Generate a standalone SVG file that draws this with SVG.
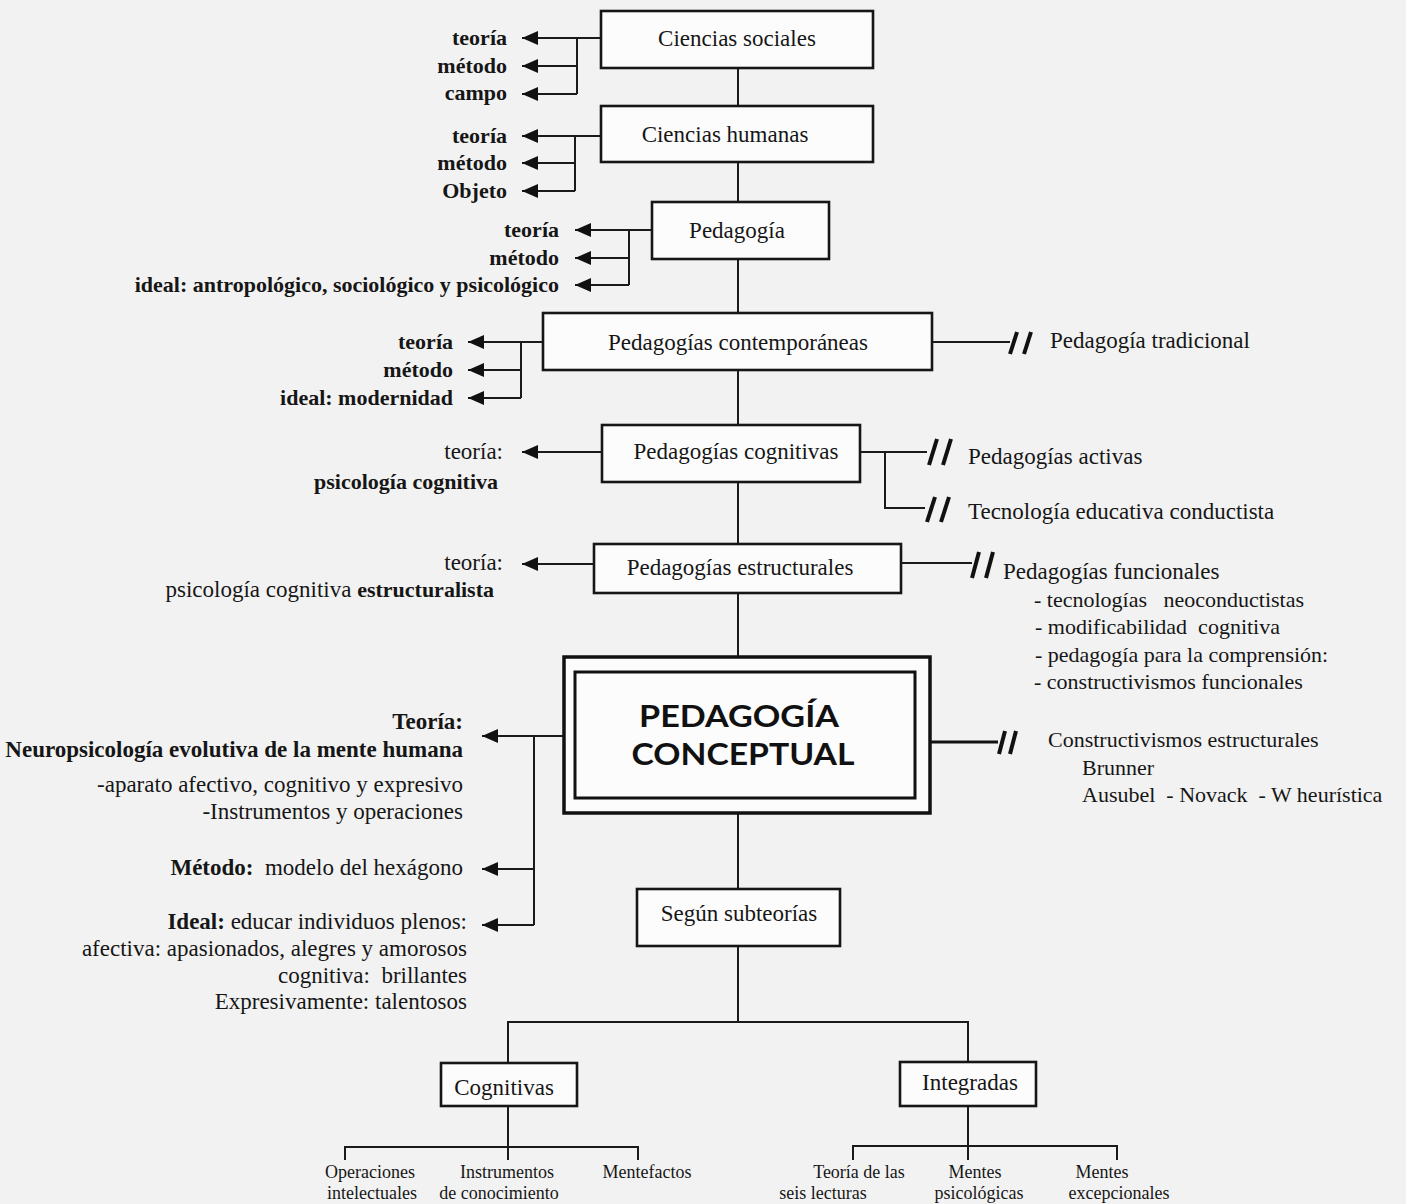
<svg xmlns="http://www.w3.org/2000/svg" width="1406" height="1204" viewBox="0 0 1406 1204">
<defs>
<style>
.bg{fill:#f2f2f2}
.box{fill:#fcfcfc;stroke:#161616;stroke-width:2.6}
.ln{stroke:#1a1a1a;stroke-width:2;fill:none}
.lnb{stroke:#111;stroke-width:3.2;fill:none}
.sl{stroke:#111;stroke-width:4;stroke-linecap:butt}
.t{font-family:"Liberation Serif","Times New Roman",serif;fill:#161616;white-space:pre}
.b{font-weight:bold}
.s22{font-size:22px}
.s23{font-size:23px}
.s18{font-size:18px}
.e{text-anchor:end}
.m{text-anchor:middle}
.pc{font-family:Lato,"Open Sans","Liberation Sans",sans-serif;font-weight:700;font-size:31px;fill:#111;text-anchor:middle}
</style>
<marker id="ah" viewBox="0 0 16 14" refX="16" refY="7" markerWidth="16" markerHeight="14" markerUnits="userSpaceOnUse" orient="auto">
<path d="M0,0 L16,7 L0,14 z" fill="#111"/>
</marker>
</defs>
<rect class="bg" x="0" y="0" width="1406" height="1204"/>

<g id="connectors">
<line class="ln" x1="738" y1="68" x2="738" y2="106"/>
<line class="ln" x1="738" y1="162" x2="738" y2="202"/>
<line class="ln" x1="738" y1="259" x2="738" y2="313"/>
<line class="ln" x1="738" y1="370" x2="738" y2="425"/>
<line class="ln" x1="738" y1="482" x2="738" y2="544"/>
<line class="ln" x1="738" y1="593" x2="738" y2="657"/>
<line class="ln" x1="738" y1="813" x2="738" y2="889"/>
<line class="ln" x1="738" y1="946" x2="738" y2="1022"/>
<polyline class="ln" points="508,1063 508,1022 968,1022 968,1062"/>
<line class="ln" x1="508" y1="1106" x2="508" y2="1160"/>
<polyline class="ln" points="345,1160 345,1147 638,1147 638,1160"/>
<line class="ln" x1="968" y1="1106" x2="968" y2="1160"/>
<polyline class="ln" points="853,1160 853,1146 1117,1146 1117,1160"/>
<line class="ln" x1="601" y1="38" x2="522" y2="38" marker-end="url(#ah)"/>
<line class="ln" x1="577" y1="38" x2="577" y2="94"/>
<line class="ln" x1="577" y1="66" x2="522" y2="66" marker-end="url(#ah)"/>
<line class="ln" x1="577" y1="94" x2="522" y2="94" marker-end="url(#ah)"/>
<line class="ln" x1="601" y1="136" x2="522" y2="136" marker-end="url(#ah)"/>
<line class="ln" x1="575" y1="136" x2="575" y2="191"/>
<line class="ln" x1="575" y1="163" x2="522" y2="163" marker-end="url(#ah)"/>
<line class="ln" x1="575" y1="191" x2="522" y2="191" marker-end="url(#ah)"/>
<line class="ln" x1="652" y1="230" x2="575" y2="230" marker-end="url(#ah)"/>
<line class="ln" x1="629" y1="230" x2="629" y2="285"/>
<line class="ln" x1="629" y1="258" x2="575" y2="258" marker-end="url(#ah)"/>
<line class="ln" x1="629" y1="285" x2="575" y2="285" marker-end="url(#ah)"/>
<line class="ln" x1="543" y1="342" x2="468" y2="342" marker-end="url(#ah)"/>
<line class="ln" x1="521" y1="342" x2="521" y2="398"/>
<line class="ln" x1="521" y1="370" x2="468" y2="370" marker-end="url(#ah)"/>
<line class="ln" x1="521" y1="398" x2="468" y2="398" marker-end="url(#ah)"/>
<line class="ln" x1="932" y1="342" x2="1010" y2="342"/>
<line class="sl" x1="1017" y1="332" x2="1010" y2="354"/>
<line class="sl" x1="1031" y1="332" x2="1024" y2="354"/>
<line class="ln" x1="602" y1="452" x2="522" y2="452" marker-end="url(#ah)"/>
<line class="ln" x1="860" y1="452" x2="927" y2="452"/>
<polyline class="ln" points="885,452 885,508 925,508"/>
<line class="sl" x1="937" y1="439" x2="929" y2="465"/>
<line class="sl" x1="951" y1="439" x2="943" y2="465"/>
<line class="sl" x1="935" y1="497" x2="927" y2="522"/>
<line class="sl" x1="949" y1="497" x2="941" y2="522"/>
<line class="ln" x1="594" y1="564" x2="522" y2="564" marker-end="url(#ah)"/>
<line class="ln" x1="901" y1="563" x2="972" y2="563"/>
<line class="sl" x1="979" y1="552" x2="972" y2="578"/>
<line class="sl" x1="993" y1="552" x2="986" y2="578"/>
<line class="ln" x1="564" y1="736" x2="482" y2="736" marker-end="url(#ah)"/>
<line class="ln" x1="534" y1="736" x2="534" y2="925"/>
<line class="ln" x1="534" y1="869" x2="482" y2="869" marker-end="url(#ah)"/>
<line class="ln" x1="534" y1="925" x2="482" y2="925" marker-end="url(#ah)"/>
<line class="lnb" x1="930" y1="742" x2="998" y2="742"/>
<line class="sl" x1="1005" y1="731" x2="999" y2="754"/>
<line class="sl" x1="1016" y1="731" x2="1010" y2="754"/>
</g>

<g id="ciencias-sociales">
<rect class="box" x="601" y="11" width="272" height="57"/>
<text class="t s23 m" x="737" y="46">Ciencias sociales</text>
<text class="t s22 b e" x="507" y="45">teoría</text>
<text class="t s22 b e" x="507" y="73">método</text>
<text class="t s22 b e" x="507" y="100">campo</text>
</g>

<g id="ciencias-humanas">
<rect class="box" x="601" y="106" width="272" height="56"/>
<text class="t s23 m" x="725" y="142">Ciencias humanas</text>
<text class="t s22 b e" x="507" y="143">teoría</text>
<text class="t s22 b e" x="507" y="170">método</text>
<text class="t s22 b e" x="507" y="198">Objeto</text>
</g>

<g id="pedagogia">
<rect class="box" x="652" y="202" width="177" height="57"/>
<text class="t s23 m" x="737" y="238">Pedagogía</text>
<text class="t s22 b e" x="559" y="237">teoría</text>
<text class="t s22 b e" x="559" y="265">método</text>
<text class="t s22 b e" x="559" y="292">ideal: antropológico, sociológico y psicológico</text>
</g>

<g id="pedagogias-contemporaneas">
<rect class="box" x="543" y="313" width="389" height="57"/>
<text class="t s23 m" x="738" y="350">Pedagogías contemporáneas</text>
<text class="t s22 b e" x="453" y="349">teoría</text>
<text class="t s22 b e" x="453" y="377">método</text>
<text class="t s22 b e" x="453" y="405">ideal: modernidad</text>
<text class="t s23" x="1050" y="348">Pedagogía tradicional</text>
</g>

<g id="pedagogias-cognitivas">
<rect class="box" x="602" y="425" width="258" height="57"/>
<text class="t s23 m" x="736" y="459">Pedagogías cognitivas</text>
<text class="t s23 e" x="503" y="459">teoría:</text>
<text class="t s22 b e" x="498" y="489">psicología cognitiva</text>
<text class="t s23" x="968" y="464">Pedagogías activas</text>
<text class="t s23" x="968" y="519">Tecnología educativa conductista</text>
</g>

<g id="pedagogias-estructurales">
<rect class="box" x="594" y="544" width="307" height="49"/>
<text class="t s23 m" x="740" y="575">Pedagogías estructurales</text>
<text class="t s23 e" x="503" y="570">teoría:</text>
<text class="t s22 e" x="494" y="597"><tspan style="font-size:23px">psicología cognitiva </tspan><tspan class="b">estructuralista</tspan></text>
<text class="t s23" x="1003" y="579">Pedagogías funcionales</text>
<text class="t s22" x="1034" y="607">- tecnologías   neoconductistas</text>
<text class="t s22" x="1035" y="634">- modificabilidad  cognitiva</text>
<text class="t s22" x="1035" y="662">- pedagogía para la comprensión:</text>
<text class="t s22" x="1034" y="689">- constructivismos funcionales</text>
</g>

<g id="pedagogia-conceptual">
<rect x="564" y="657" width="366" height="156" fill="#fcfcfc" stroke="#111" stroke-width="3.5"/>
<rect x="575" y="672" width="340" height="126" fill="none" stroke="#111" stroke-width="3"/>
<text class="pc" x="739" y="727" textLength="200" lengthAdjust="spacingAndGlyphs">PEDAGOGÍA</text>
<text class="pc" x="743" y="765" textLength="223" lengthAdjust="spacingAndGlyphs">CONCEPTUAL</text>
<text class="t s23 b e" x="463" y="729">Teoría:</text>
<text class="t s23 b e" x="463" y="757">Neuropsicología evolutiva de la mente humana</text>
<text class="t s23 e" x="463" y="792">-aparato afectivo, cognitivo y expresivo</text>
<text class="t s23 e" x="463" y="819">-Instrumentos y operaciones</text>
<text class="t s23 e" x="463" y="875"><tspan class="b">Método:</tspan>  modelo del hexágono</text>
<text class="t s23 e" x="467" y="929"><tspan class="b">Ideal:</tspan> educar individuos plenos:</text>
<text class="t s23 e" x="467" y="956">afectiva: apasionados, alegres y amorosos</text>
<text class="t s23 e" x="467" y="983">cognitiva:  brillantes</text>
<text class="t s23 e" x="467" y="1009">Expresivamente: talentosos</text>
<text class="t s22" x="1048" y="747">Constructivismos estructurales</text>
<text class="t s22" x="1082" y="775">Brunner</text>
<text class="t s22" x="1082" y="802">Ausubel  - Novack  - W heurística</text>
</g>

<g id="segun-subteorias">
<rect class="box" x="637" y="889" width="203" height="57"/>
<text class="t s23 m" x="739" y="921">Según subteorías</text>
</g>

<g id="cognitivas">
<rect class="box" x="441" y="1063" width="136" height="43"/>
<text class="t s23 m" x="504" y="1095">Cognitivas</text>
<text class="t s18 m" x="370" y="1178">Operaciones</text>
<text class="t s18 m" x="372" y="1199">intelectuales</text>
<text class="t s18 m" x="507" y="1178">Instrumentos</text>
<text class="t s18 m" x="499" y="1199">de conocimiento</text>
<text class="t s18 m" x="647" y="1178">Mentefactos</text>
</g>

<g id="integradas">
<rect class="box" x="900" y="1062" width="136" height="44"/>
<text class="t s23 m" x="970" y="1090">Integradas</text>
<text class="t s18 m" x="859" y="1178">Teoría de las</text>
<text class="t s18 m" x="823" y="1199">seis lecturas</text>
<text class="t s18 m" x="975" y="1178">Mentes</text>
<text class="t s18 m" x="979" y="1199">psicológicas</text>
<text class="t s18 m" x="1102" y="1178">Mentes</text>
<text class="t s18 m" x="1119" y="1199">excepcionales</text>
</g>
</svg>
